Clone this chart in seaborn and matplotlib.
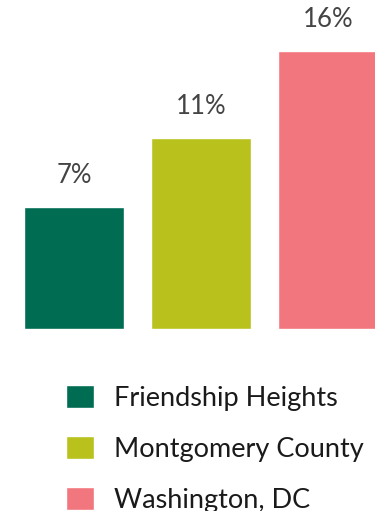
import matplotlib
matplotlib.use("Agg")
import matplotlib.pyplot as plt
import seaborn as sns
import pandas as pd

categories = ["Friendship Heights", "Montgomery County", "Washington, DC"]
values = [7, 11, 16]
labels = ["7%", "11%", "16%"]
colors = ["#006c52", "#b9c11c", "#f2767d"]

sns.set_theme(style="white")
plt.rcParams['font.family'] = ['Lato', 'DejaVu Sans']

df = pd.DataFrame({"cat": categories, "val": values})
fig = plt.figure(figsize=(3.75, 5.11), dpi=100)
ax = fig.add_axes([0, 0, 1, 1])
sns.barplot(data=df, x="cat", y="val", hue="cat", palette=colors, width=0.79,
            dodge=False, legend=True, ax=ax, saturation=1)
ax.set_xlim(-0.583, 2.37)
ax.set_ylim(-10.48, 18.94)
ax.axis("off")
for i, (v, t) in enumerate(zip(values, labels)):
    ax.text(i, v + 1.1, t, ha="center", va="bottom", fontsize=18.5, color="#444444")

sns.move_legend(ax, "upper left", bbox_to_anchor=(0.176, 0.247), bbox_transform=fig.transFigure,
                frameon=False, title=None, fontsize=19.5, handlelength=1.05, handleheight=0.95,
                handletextpad=0.72, labelspacing=0.92, borderpad=0, borderaxespad=0)
for txt in ax.get_legend().get_texts():
    txt.set_color("#1a1a1a")

fig.savefig("out.png", dpi=100)
